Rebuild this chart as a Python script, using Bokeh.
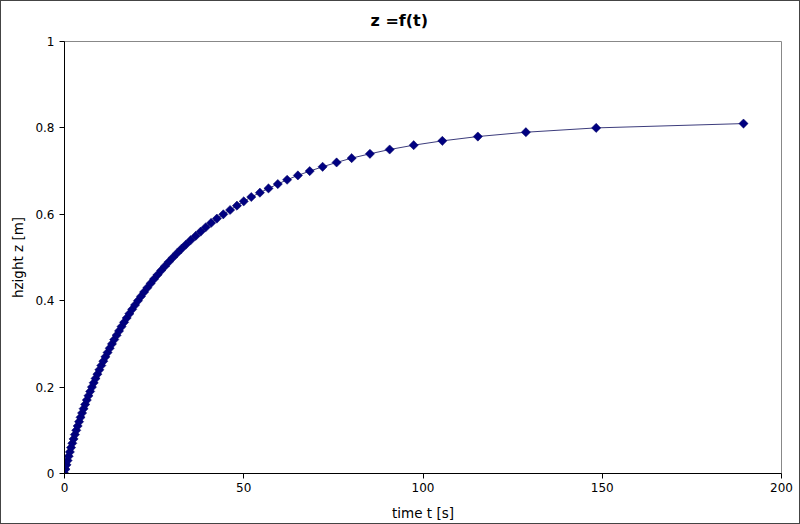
import math
from bokeh.plotting import figure
from bokeh.models import FixedTicker, Range1d
from bokeh.embed import file_html
from bokeh.resources import INLINE

# data
height_z = [round(0.01 * i, 2) for i in range(82)]
time_t = [0.0, 0.27, 0.56, 0.86, 1.17, 1.50, 1.83, 2.18, 2.54, 2.90,
          3.28, 3.67, 4.07, 4.48, 4.90, 5.33, 5.77, 6.22, 6.69, 7.16,
          7.65, 8.15, 8.66, 9.18, 9.72, 10.27, 10.83, 11.41, 12.01, 12.62,
          13.24, 13.88, 14.54, 15.21, 15.91, 16.62, 17.35, 18.10, 18.88, 19.67,
          20.49, 21.33, 22.20, 23.10, 24.02, 24.97, 25.96, 26.97, 28.02, 29.11,
          30.24, 31.40, 32.62, 33.88, 35.19, 36.6, 38.0, 39.4, 40.9, 42.5,
          44.3, 46.2, 48.1, 50.0, 52.1, 54.5, 56.9, 59.5, 62.1, 65.1,
          68.4, 72.0, 75.9, 80.1, 85.2, 90.7, 97.4, 105.4, 115.3, 128.7,
          148.3, 189.4]
x_ticks = [0, 50, 100, 150, 200]
y_ticks = [0, 0.2, 0.4, 0.6, 0.8, 1]
y_tick_labels = ["0", "0.2", "0.4", "0.6", "0.8", "1"]
title_text = "z =f(t)"
x_label = "time t [s]"
y_label = "hzight z [m]"

FONT = "DejaVu Sans"

p = figure(width=800, height=524, output_backend="svg", toolbar_location=None,
           x_range=Range1d(0, 200), y_range=Range1d(0, 1),
           min_border_left=63, min_border_right=20, min_border_top=40,
           min_border_bottom=52)
p.styles = {"border": "1px solid #444444", "box-sizing": "border-box"}

p.title.text = title_text
p.title.align = "left"
p.title.offset = 306
p.title.standoff = 19
p.title.vertical_align = "top"
p.title.text_font = FONT
p.title.text_font_size = "16px"
p.title.text_font_style = "bold"
p.title.text_color = "black"

p.xgrid.visible = False
p.ygrid.visible = False
p.outline_line_color = "#888888"
p.outline_line_width = 1
p.background_fill_color = "white"
p.border_fill_color = "white"

for ax in (p.xaxis, p.yaxis):
    ax.axis_line_color = "black"
    ax.major_tick_line_color = "black"
    ax.minor_tick_line_color = None
    ax.major_tick_in = 0
    ax.major_tick_out = 5
    ax.major_label_text_font = FONT
    ax.major_label_text_font_size = "12px"
    ax.major_label_text_color = "black"
    ax.axis_label_text_font = FONT
    ax.axis_label_text_font_size = "13.5px"
    ax.axis_label_text_font_style = "normal"
    ax.axis_label_text_color = "black"

p.xaxis.ticker = FixedTicker(ticks=x_ticks)
p.yaxis.ticker = FixedTicker(ticks=y_ticks)
p.yaxis.major_label_overrides = {t: l for t, l in zip(y_ticks, y_tick_labels)}
p.xaxis.axis_label = x_label
p.yaxis.axis_label = y_label
p.xaxis.major_label_standoff = 4
p.yaxis.major_label_standoff = 5
p.xaxis.axis_label_standoff = 10
p.yaxis.axis_label_standoff = 6

p.line(time_t, height_z, line_color="#3c3c7c", line_width=1)
p.scatter(time_t, height_z, marker="square", size=6.5, angle=math.pi / 4,
          fill_color="#000080", line_color="#000060", line_width=0.5)

open("out.html", "w").write(file_html(p, INLINE))
